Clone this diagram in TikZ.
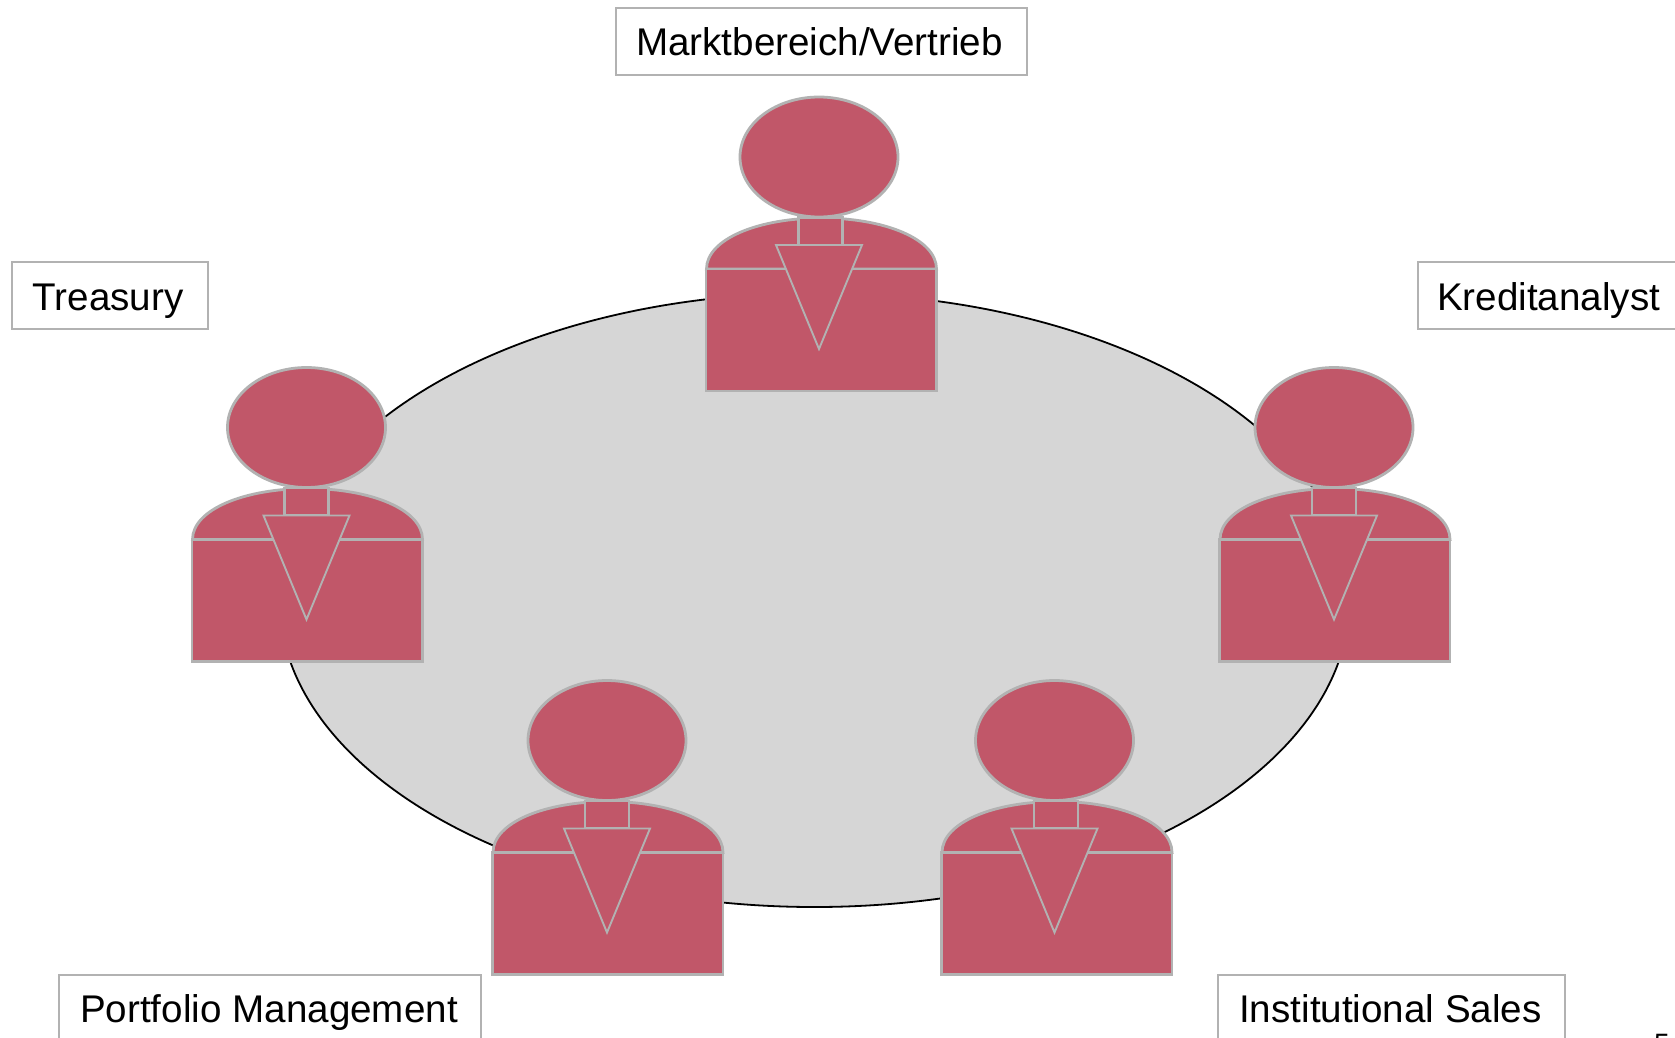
\documentclass[tikz,border=0pt]{standalone}
\usepackage{fontspec}
\setmainfont{Liberation Sans}
\usetikzlibrary{shapes.geometric}
\definecolor{bodyred}{RGB}{193,87,105}
\definecolor{edgegrey}{RGB}{178,178,178}
\definecolor{tablegrey}{RGB}{214,214,214}
\tikzset{
  labelbox/.style={draw=edgegrey,line width=1.8pt,fill=white,inner sep=0pt,align=center,
    text height=27pt,text depth=0pt,
    font=\fontsize{38.6}{44}\selectfont},
  tablefill/.style={ellipse,draw=black,line width=1.8pt,fill=tablegrey,inner sep=0pt,
    minimum width=1070pt,minimum height=614pt},
  headshape/.style={ellipse,draw=edgegrey,line width=2.8pt,fill=bodyred,inner sep=0pt,
    minimum width=158pt,minimum height=120pt},
  bodypart/.style={draw=edgegrey,line width=2.8pt,fill=bodyred,line join=miter},
  thinpart/.style={draw=edgegrey,line width=1.9pt,fill=bodyred,line join=miter}
}
% #1 name, #2 x, #3 y, #4 sideways offset of the body and neck against head and tie
\newcommand{\personfig}[4]{%
  \begin{scope}[shift={(#2,#3)}]
    \begin{scope}[shift={(#4,0)}]
      \draw[bodypart] (-114,112) .. controls (-114,82) and (-62,61) .. (1,61)
         .. controls (64,61) and (116,82) .. (116,112) -- cycle;
      \draw[bodypart] (-114.5,112) rectangle (116,234);
      \draw[thinpart] (-114.5,112) -- (116,112);
      \draw[bodypart] (-22,60.5) rectangle (22,88);
    \end{scope}
    \draw[thinpart] (-43,88) -- (43,88) -- (0,192) -- cycle;
    \node[headshape] (#1) at (0,0) {};
  \end{scope}}
\begin{document}
\begin{tikzpicture}[x=1pt,y=-1pt]
  \useasboundingbox (0,0) rectangle (1675,1037);
  \clip (0,0) rectangle (1675,1037);
  \fill[white] (0,0) rectangle (1675,1037);
  \node[tablefill] (table) at (814.5,600) {};
  \personfig{top}{819}{157}{1.5}
  \personfig{left}{306.5}{427.5}{0}
  \personfig{right}{1334}{427.5}{0}
  \personfig{botleft}{607}{740.5}{0}
  \personfig{botright}{1054.5}{740.5}{1.5}
  \node[labelbox,minimum width=411pt,minimum height=67pt] (lmarkt) at (821.5,41.5) {\raisebox{-0.5pt}{Marktbereich/Vertrieb}\kern4pt};
  \node[labelbox,minimum width=196pt,minimum height=67pt] (ltreasury) at (110,295.5) {\raisebox{-1pt}{Treasury}\kern4pt};
  \node[labelbox,minimum width=270pt,minimum height=67pt,text width=270pt,align=left] (lkredit) at (1553,295.5) {\hspace*{19pt}\raisebox{-1pt}{Kreditanalyst}};
  \node[labelbox,minimum width=422pt,minimum height=67pt] (lport) at (270,1008.5) {Portfolio Management\kern2pt};
  \node[labelbox,minimum width=347pt,minimum height=67pt] (linst) at (1391.5,1008.5) {Institutional Sales\kern2pt};
  \node[anchor=base,inner sep=0pt,font=\fontsize{28}{32}\selectfont] (pagenum) at (1662,1053) {5};
\end{tikzpicture}
\end{document}
